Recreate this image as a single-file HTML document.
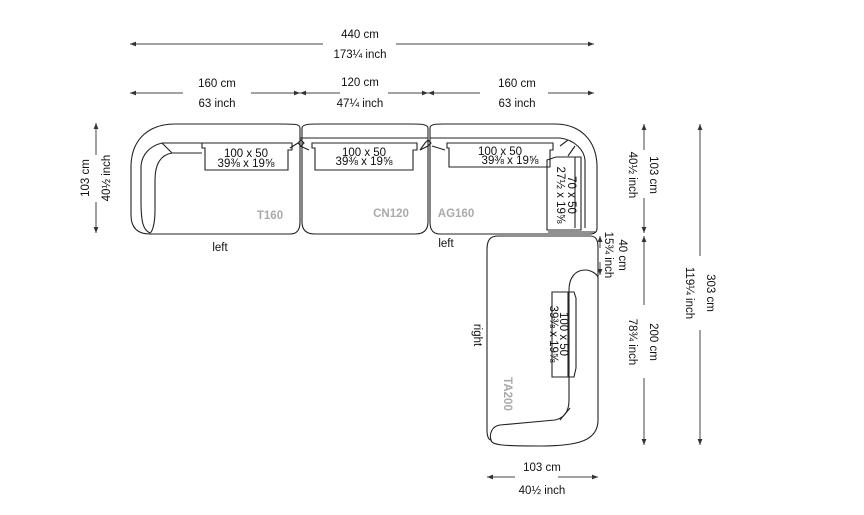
<!DOCTYPE html>
<html><head><meta charset="utf-8"><style>
html,body{margin:0;padding:0;background:#fff}
svg{display:block}
text{font-family:"Liberation Sans",Arial,sans-serif;font-size:11.5px;fill:#111}
.g{fill:#aaa;font-weight:bold;font-size:11.5px}
.c{font-size:11.5px}
</style></head><body>
<svg width="864" height="515" viewBox="0 0 864 515" xmlns="http://www.w3.org/2000/svg">
<defs>
<marker id="a" viewBox="0 0 10 10" refX="10" refY="5" markerWidth="8" markerHeight="6" orient="auto-start-reverse" markerUnits="userSpaceOnUse"><path d="M0,1 L10,5 L0,9 Z" fill="#333"/></marker>
</defs>
<g stroke="#444" stroke-width="1" fill="none">
<line x1="130" y1="44" x2="323" y2="44" marker-start="url(#a)"/>
<line x1="396" y1="44" x2="594" y2="44" marker-end="url(#a)"/>
<line x1="130" y1="93" x2="183" y2="93" marker-start="url(#a)"/>
<line x1="251" y1="93" x2="300" y2="93" marker-end="url(#a)"/>
<line x1="300" y1="93" x2="340" y2="93" marker-start="url(#a)"/>
<line x1="388" y1="93" x2="428" y2="93" marker-end="url(#a)"/>
<line x1="428" y1="93" x2="480" y2="93" marker-start="url(#a)"/>
<line x1="548" y1="93" x2="594" y2="93" marker-end="url(#a)"/>
<line x1="96" y1="123" x2="96" y2="155" marker-start="url(#a)"/>
<line x1="96" y1="202" x2="96" y2="233" marker-end="url(#a)"/>
<line x1="644" y1="124" x2="644" y2="150" marker-start="url(#a)"/>
<line x1="644" y1="198" x2="644" y2="233" marker-end="url(#a)"/>
<line x1="644" y1="236" x2="644" y2="305" marker-start="url(#a)"/>
<line x1="644" y1="378" x2="644" y2="445" marker-end="url(#a)"/>
<line x1="700" y1="124" x2="700" y2="256" marker-start="url(#a)"/>
<line x1="700" y1="330" x2="700" y2="445" marker-end="url(#a)"/>
<line x1="600" y1="236" x2="600" y2="248" marker-start="url(#a)"/>
<line x1="600" y1="262" x2="600" y2="275" marker-end="url(#a)"/>
<line x1="487" y1="477" x2="515" y2="477" marker-start="url(#a)"/>
<line x1="558" y1="477" x2="598" y2="477" marker-end="url(#a)"/>
</g>
<g stroke="#222" stroke-width="1.1" fill="none">
<path d="M300,128 C300,124 295,124 280,124 L175,124 C150,124 132,138 131,165 L131,215 C131,228 138,234 150,234 L290,234 C297,234 300,230 300,222 Z"/>
<path d="M162,143 C150,146 142,154 141,166 L141,200 C141,222 143,230 150,233"/>
<path d="M162,143 L202,143 M162,143 L172,153 L202,153 M172,153 C160,155 155,165 155,180 L155,210 C155,225 152,232 150,233"/>
<path d="M290,148 L298,143"/>
<path d="M302,128 C302,124 310,124 320,124 L410,124 C420,124 428,124 428,128 L428,222 C428,230 424,234 415,234 L315,234 C306,234 302,230 302,222 Z"/>
<path d="M300,138 L428,138"/>
<path d="M298,143 L301,140 L304,143 L301,146 Z M300,146 L309,150"/>
<path d="M420,150 L425,143 L428,140 L431,143 L428,146 Z M432,146 L445,150"/>
<path d="M430,128 C430,124 436,124 445,124 L555,124 C580,124 596,140 597,165 L597,228 C597,233 594,234 590,234 L440,234 C433,234 430,230 430,222 Z"/>
<path d="M430,138 L560,138 C575,140 584,150 585,160 L585,228"/>
<path d="M560,146 L568,140 M568,156 L575,146"/>
<path d="M202,143 L292,143 L292,150 L288,150 L288,170 L205,170 L205,148 L202,148 Z"/>
<path d="M312,143 L417,143 L417,150 L413,150 L413,170 L315,170 L315,148 L312,148 Z"/>
<path d="M447,143 L553,143 L553,150 L550,150 L550,167 L449,167 L449,148 L447,148 Z"/>
<path d="M556,157 L581,157 L581,230 L547,230 L547,160 Z M575,157 L575,228"/>
<path d="M548,232 L596,232"/>
<path d="M498,236 L590,236 C596,236 598,240 598,248 L598,278 C598,275 592,270 585,270 C575,270 569,278 569,290 L569,400 C569,410 565,418 555,420 L500,425 C492,426 489,434 491,440 C492,445 500,446 540,446 C580,446 598,440 598,420 L598,278"/>
<path d="M498,236 C490,236 487,240 487,250 L487,430 C487,437 489,440 491,440"/>
<path d="M552,292 L574,292 L576,298 L576,368 L574,377 L552,377 Z M568,292 L568,377"/>
<path d="M560,420 L570,408"/>
</g>
<text x="360" y="38" text-anchor="middle">440 cm</text>
<text x="360" y="58" text-anchor="middle">173¼ inch</text>
<text x="217" y="87" text-anchor="middle">160 cm</text>
<text x="217" y="107" text-anchor="middle">63 inch</text>
<text x="360" y="86" text-anchor="middle">120 cm</text>
<text x="360" y="107" text-anchor="middle">47¼ inch</text>
<text x="517" y="87" text-anchor="middle">160 cm</text>
<text x="517" y="107" text-anchor="middle">63 inch</text>
<text class="c" x="246" y="157" text-anchor="middle">100 x 50</text>
<text class="c" x="246" y="167" text-anchor="middle">39⅜ x 19⅝</text>
<text class="c" x="364" y="156" text-anchor="middle">100 x 50</text>
<text class="c" x="364" y="165" text-anchor="middle">39⅜ x 19⅝</text>
<text class="c" x="500" y="155" text-anchor="middle">100 x 50</text>
<text class="c" x="510" y="164" text-anchor="middle">39⅜ x 19⅝</text>
<text class="c" transform="translate(568,195) rotate(90)" text-anchor="middle">70 x 50</text>
<text class="c" transform="translate(557,195) rotate(90)" text-anchor="middle">27½ x 19⅝</text>
<text class="c" transform="translate(560,334) rotate(90)" text-anchor="middle">100 x 50</text>
<text class="c" transform="translate(550,334) rotate(90)" text-anchor="middle">39⅜ x 19⅝</text>
<text class="g" x="270" y="219" text-anchor="middle">T160</text>
<text class="g" x="391" y="217" text-anchor="middle">CN120</text>
<text class="g" x="456" y="217" text-anchor="middle">AG160</text>
<text class="g" transform="translate(504,394) rotate(90)" text-anchor="middle">TA200</text>
<text x="220" y="251" text-anchor="middle">left</text>
<text x="446" y="247" text-anchor="middle">left</text>
<text transform="translate(474,335) rotate(90)" text-anchor="middle">right</text>
<text transform="translate(89,178) rotate(-90)" text-anchor="middle">103 cm</text>
<text transform="translate(110,178) rotate(-90)" text-anchor="middle">40½ inch</text>
<text transform="translate(650,175) rotate(90)" text-anchor="middle">103 cm</text>
<text transform="translate(629,175) rotate(90)" text-anchor="middle">40½ inch</text>
<text transform="translate(619,255) rotate(90)" text-anchor="middle">40 cm</text>
<text transform="translate(605,255) rotate(90)" text-anchor="middle">15¾ inch</text>
<text transform="translate(650,342) rotate(90)" text-anchor="middle">200 cm</text>
<text transform="translate(629,342) rotate(90)" text-anchor="middle">78¾ inch</text>
<text transform="translate(707,293) rotate(90)" text-anchor="middle">303 cm</text>
<text transform="translate(686,293) rotate(90)" text-anchor="middle">119¼ inch</text>
<text x="542" y="471" text-anchor="middle">103 cm</text>
<text x="542" y="494" text-anchor="middle">40½ inch</text>
</svg>
</body></html>
